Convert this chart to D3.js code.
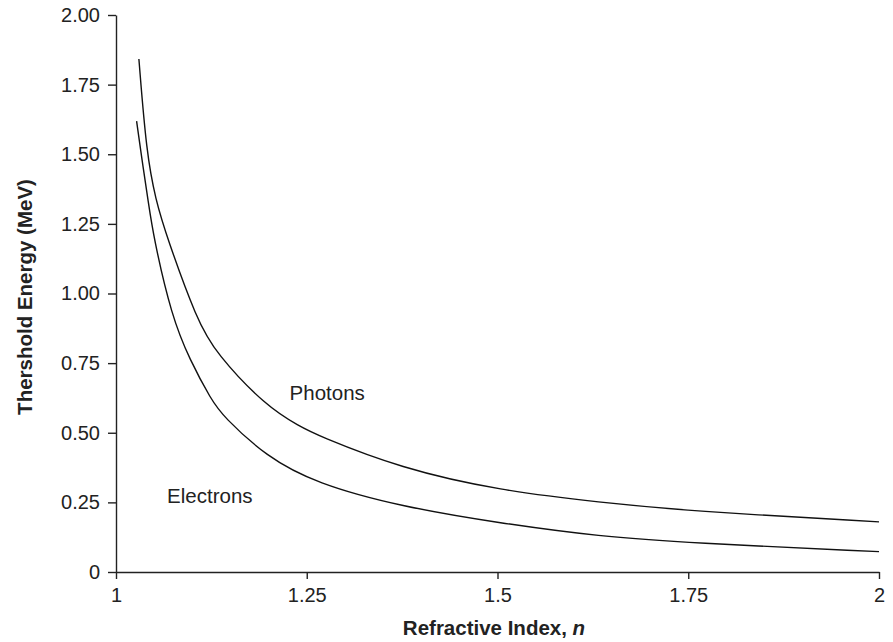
<!DOCTYPE html>
<html>
<head>
<meta charset="utf-8">
<script src="https://cdn.jsdelivr.net/npm/d3@7"></script>
<style>
  body { margin: 0; background: #fff; }
  svg { font-family: "Liberation Sans", Arial, sans-serif; }
  .axis path, .axis line { stroke: #222; stroke-width: 1.4; }
  .axis text { font-size: 20px; fill: #222; }
  .curve { fill: none; stroke: #111; stroke-width: 1.4; }
</style>
</head>
<body>
<svg width="893" height="642"></svg>
<script>
// values
const photonN = [1.030, 1.040, 1.052, 1.0665, 1.106, 1.131, 1.197, 1.2415, 1.2625, 1.373, 1.504, 1.635, 1.75, 2.0];
const photonE = [1.842, 1.503, 1.336, 1.204, 0.905, 0.785, 0.594, 0.522, 0.492, 0.372, 0.292, 0.250, 0.219, 0.180];

const electronN = [1.027, 1.036, 1.042, 1.049, 1.073, 1.097, 1.125, 1.140, 1.197, 1.2625, 1.373, 1.504, 1.635, 1.75, 2.0];
const electronE = [1.619, 1.443, 1.336, 1.204, 0.917, 0.760, 0.618, 0.560, 0.414, 0.318, 0.235, 0.175, 0.127, 0.105, 0.073];

const xTicks = [1, 1.25, 1.5, 1.75, 2];
const xTickLabels = ["1", "1.25", "1.5", "1.75", "2"];
const yTicks = [0, 0.25, 0.5, 0.75, 1, 1.25, 1.5, 1.75, 2];
const yTickLabels = ["0", "0.25", "0.50", "0.75", "1.00", "1.25", "1.50", "1.75", "2.00"];

const labels = [
    {text: "Photons", n: 1.2275, e: 0.618},
    {text: "Electrons", n: 1.067, e: 0.248}
];

const LEFT = 116, RIGHT = 879, TOP = 15, BOTTOM = 572;

const svg = d3.select("svg");

const x = d3.scaleLinear().domain([1, 2]).range([LEFT, RIGHT]);
const y = d3.scaleLinear().domain([0, 2]).range([BOTTOM, TOP]);

svg.append("g")
    .attr("class", "axis")
    .attr("transform", "translate(0," + BOTTOM + ")")
    .call(d3.axisBottom(x).tickValues(xTicks)
        .tickFormat((d, i) => xTickLabels[i])
        .tickSize(7).tickSizeOuter(0).tickPadding(9));

svg.append("g")
    .attr("class", "axis")
    .attr("transform", "translate(" + LEFT + ",0)")
    .call(d3.axisLeft(y).tickValues(yTicks)
        .tickFormat((d, i) => yTickLabels[i])
        .tickSize(8).tickSizeOuter(0).tickPadding(8));

// axis titles
svg.append("text")
    .attr("x", 494)
    .attr("y", 635)
    .attr("text-anchor", "middle")
    .attr("font-size", 20.5)
    .attr("font-weight", "bold")
    .attr("fill", "#222")
    .html('Refractive Index, <tspan font-style="italic">n</tspan>');

svg.append("text")
    .attr("transform", "translate(32," + 297 + ") rotate(-90)")
    .attr("text-anchor", "middle")
    .attr("font-size", 20.5)
    .attr("font-weight", "bold")
    .attr("fill", "#222")
    .text("Thershold Energy (MeV)");

// basis smoothing evens out small reading errors in the traced points
const line = d3.line()
    .x(d => x(d[0]))
    .y(d => y(d[1]))
    .curve(d3.curveBasis);

svg.append("path")
    .attr("class", "curve")
    .attr("d", line(d3.zip(photonN, photonE)));

svg.append("path")
    .attr("class", "curve")
    .attr("d", line(d3.zip(electronN, electronE)));

svg.selectAll(".lbl")
    .data(labels)
    .enter().append("text")
    .attr("class", "lbl")
    .attr("x", d => x(d.n))
    .attr("y", d => y(d.e))
    .attr("font-size", 20.5)
    .attr("fill", "#222")
    .text(d => d.text);
</script>
</body>
</html>
